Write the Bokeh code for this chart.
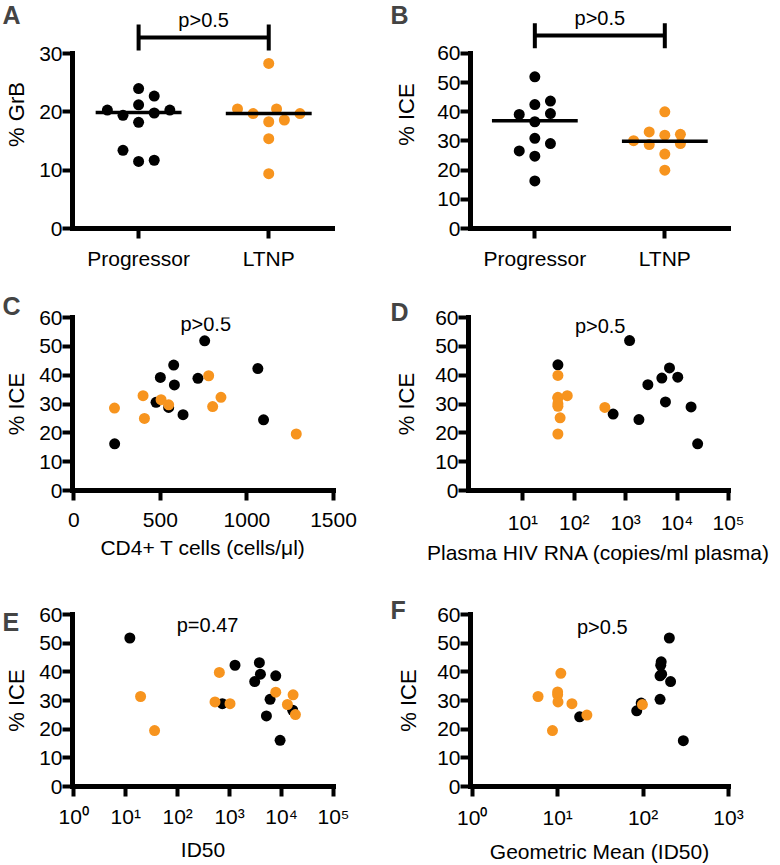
from bokeh.plotting import figure
from bokeh.models import Range1d, FixedTicker, Label
from bokeh.layouts import column, row
from bokeh.embed import file_html
from bokeh.resources import INLINE
from bokeh.core.properties import value

FONT = "Liberation Sans"
ORANGE = "#F7941E"
BLACK = "#000000"

# ---------------- data ----------------
groups = ["Progressor", "LTNP"]

# Panel A: % GrB
grb_prog = [24.0, 22.7, 20.3, 19.4, 21.2, 19.8, 20.3, 18.2, 13.4, 11.5, 11.7]
grb_prog_jit = [0, 0.12, -0.24, -0.12, 0, 0.12, 0.24, 0, -0.12, 0, 0.12]
grb_ltnp = [28.3, 20.5, 19.7, 20.5, 19.7, 18.3, 18.6, 15.4, 9.4]
grb_ltnp_jit = [0, -0.24, -0.12, 0.06, 0.24, 0, 0.12, 0, 0]
grb_medians = [19.9, 19.7]

# Panel B: % ICE
ice_prog = [52.0, 42.5, 43.7, 39.1, 39.4, 36.6, 30.9, 26.6, 29.1, 24.8, 16.3]
ice_prog_jit = [0, 0, 0.12, -0.12, 0.12, 0, 0, -0.12, 0.12, 0, 0]
ice_ltnp = [40.0, 33.1, 30.1, 28.8, 32.0, 32.3, 29.1, 25.5, 20.0]
ice_ltnp_jit = [0, -0.12, -0.24, -0.12, 0, 0.12, 0.12, 0, 0]
ice_medians = [36.9, 29.9]

# Panel C: CD4+ T cells vs % ICE
cd4_prog = [236, 475, 500, 548, 577, 581, 631, 717, 756, 1063, 1096]
ice_c_prog = [16.2, 30.6, 39.2, 28.8, 43.5, 36.6, 26.3, 38.9, 51.9, 42.3, 24.5]
cd4_ltnp = [235, 400, 408, 504, 548, 779, 802, 850, 1285]
ice_c_ltnp = [28.6, 32.9, 25.0, 31.5, 29.7, 39.8, 29.1, 32.3, 19.6]

# Panel D: plasma HIV RNA vs % ICE
rna_prog = [48, 570, 1190, 1810, 2700, 5050, 5940, 7110, 10300, 18700, 25100]
ice_d_prog = [43.6, 26.5, 52.0, 24.6, 36.7, 39.0, 30.7, 42.5, 39.3, 29.0, 16.2]
rna_ltnp = [48, 48, 48, 48, 48, 53, 48, 73, 393]
ice_d_ltnp = [39.9, 32.3, 32.0, 30.1, 29.2, 25.2, 19.6, 32.9, 28.8]

# Panel E: ID50 vs % ICE
id50_prog = [12, 724, 1270, 3040, 3740, 3920, 7730, 6010, 5110, 16400, 9370]
ice_e_prog = [51.8, 28.9, 42.3, 36.6, 43.2, 39.2, 38.6, 30.4, 24.6, 26.6, 16.1]
id50_ltnp = [19.3, 35.9, 634, 523, 1018, 7730, 12970, 16670, 18500]
ice_e_ltnp = [31.4, 19.5, 39.8, 29.5, 28.9, 32.9, 28.6, 32.0, 25.1]

# Panel F: geometric mean ID50 vs % ICE
gm_prog = [18.1, 84.3, 158, 161, 165, 158, 203, 210, 296, 163, 95]
ice_f_prog = [24.3, 26.4, 38.6, 42.3, 39.2, 30.4, 51.8, 36.6, 16.0, 43.5, 29.1]
gm_ltnp = [5.9, 8.7, 10.0, 10.1, 10.9, 14.7, 22.0, 98.2, 10.0]
ice_f_ltnp = [31.4, 19.5, 32.0, 29.5, 39.5, 28.9, 24.9, 28.6, 33.0]

ice_ticks = [0, 10, 20, 30, 40, 50, 60]
grb_ticks = [0, 10, 20, 30]
sup = {0: "10\u2070", 1: "10\u00b9", 2: "10\u00b2", 3: "10\u00b3", 4: "10\u2074", 5: "10\u2075"}


def make_fig(width, height, xr, yr, borders, x_type="linear"):
    p = figure(width=width, height=height, x_range=xr, y_range=yr, x_axis_type=x_type,
               output_backend="svg", toolbar_location=None,
               min_border_left=borders[0], min_border_right=borders[1],
               min_border_top=borders[2], min_border_bottom=borders[3])
    p.outline_line_color = None
    p.xgrid.visible = False
    p.ygrid.visible = False
    for ax in [p.xaxis[0], p.yaxis[0]]:
        ax.axis_line_width = 5
        ax.axis_line_cap = "square"
        ax.major_tick_line_width = 4
        ax.major_tick_out = 10
        ax.major_tick_in = 0
        ax.minor_tick_line_color = None
        ax.major_label_text_font = FONT
        ax.major_label_text_font_size = "21px"
        ax.major_label_text_color = BLACK
        ax.axis_label_text_font = FONT
        ax.axis_label_text_font_size = "21px"
        ax.axis_label_text_font_style = "normal"
        ax.axis_label_text_color = BLACK
    p.yaxis[0].axis_label_text_font_size = "22px"
    p.yaxis[0].major_label_standoff = 0
    return p


def letter(p, text, x, y):
    # placed in the (empty) right side panel so it is not clipped to the frame;
    # its position is given in data units, i.e. relative to the plot scales
    p.add_layout(Label(x=x, y=y, text=text,
                       text_font=FONT, text_font_size="25px", text_font_style="bold",
                       text_baseline="top", text_align="left"), "right")


def ptext(p, x, y, text):
    p.text(x=[x], y=[y], text=[text], text_align="center", text_baseline="middle",
           text_font=value(FONT), text_font_size="20px", text_color=BLACK)


def dot_panel(width, borders, yr_end, ymax, ticks, ylabel, prog, pj, ltnp, lj, medians,
              bracket, ptxt_y, xr, label_standoff):
    p = make_fig(width, 288, Range1d(*xr), Range1d(0, yr_end), borders)
    p.yaxis.ticker = FixedTicker(ticks=ticks)
    p.yaxis.bounds = (0, ymax)
    p.yaxis.axis_label = ylabel
    p.yaxis.axis_label_standoff = label_standoff
    p.xaxis.ticker = FixedTicker(ticks=[1, 2])
    p.xaxis.major_label_overrides = {1: groups[0], 2: groups[1]}
    p.xaxis.major_label_standoff = 8
    p.scatter([1 + j for j in pj], prog, size=11, fill_color=BLACK, line_color=None)
    p.scatter([2 + j for j in lj], ltnp, size=11, fill_color=ORANGE, line_color=None)
    p.segment(x0=[1 - 0.33, 2 - 0.33], x1=[1 + 0.33, 2 + 0.33], y0=medians, y1=medians,
              line_width=3.5, line_color=BLACK)
    by, b0, b1 = bracket
    p.segment(x0=[1, 1, 2], x1=[2, 1, 2], y0=[by, b0, b0], y1=[by, b1, b1],
              line_width=4, line_color=BLACK)
    ptext(p, 1.5, ptxt_y, "p>0.5")
    return p


# Panel A
pA = dot_panel(390, (72, 58, 0, 60), 39.09, 30, grb_ticks, "% GrB", grb_prog, grb_prog_jit,
               grb_ltnp, grb_ltnp_jit, grb_medians, (32.74, 30.51, 34.97), 35.83,
               (0.492, 2.49), 7)
letter(pA, "A", -0.046, 39.09)

# Panel B
pB = dot_panel(390, (80, 52, 0, 60), 78.17, 60, ice_ticks, "% ICE", ice_prog, ice_prog_jit,
               ice_ltnp, ice_ltnp_jit, ice_medians, (66.17, 61.82, 70.39), 72.0,
               (0.505, 2.49), 15)
letter(pB, "B", -0.11, 78.17)


def scatter_panel(width, height, xr, borders, x_type, xticks, xlabel, xp, yp, xl, yl,
                  ptxt, label_standoff, tick_standoff, title_standoff, overrides=None):
    p = make_fig(width, height, xr, Range1d(0, 60), borders, x_type)
    p.yaxis.ticker = FixedTicker(ticks=ice_ticks)
    p.yaxis.axis_label = "% ICE"
    p.yaxis.axis_label_standoff = label_standoff
    p.xaxis.ticker = FixedTicker(ticks=xticks)
    if overrides:
        p.xaxis.major_label_overrides = overrides
    p.xaxis.axis_label = xlabel
    p.xaxis.major_label_standoff = tick_standoff
    p.xaxis.axis_label_standoff = title_standoff
    p.scatter(xp, yp, size=11, fill_color=BLACK, line_color=None)
    p.scatter(xl, yl, size=11, fill_color=ORANGE, line_color=None)
    ptext(p, ptxt[0], ptxt[1], ptxt[2])
    return p


pC = scatter_panel(390, 282, Range1d(-7.5, 1500), (72, 57, 29, 80), "linear",
                   [0, 500, 1000, 1500], "CD4+ T cells (cells/\u03bcl)",
                   cd4_prog, ice_c_prog, cd4_ltnp, ice_c_ltnp, (762, 57.6, "p>0.5"), 7, 12, 6)
letter(pC, "C", -411.8, 68.7)

dticks = [10, 100, 1000, 10000, 100000]
pD = scatter_panel(390, 282, Range1d(10 ** -0.058, 1e5), (78, 52, 29, 80), "log",
                   dticks, "Plasma HIV RNA (copies/ml plasma)",
                   rna_prog, ice_d_prog, rna_ltnp, ice_d_ltnp, (319, 56.9, "p>0.5"), 13, 10, 4,
                   {t: sup[i + 1] for i, t in enumerate(dticks)})
letter(pD, "D", 10 ** -1.575, 66.6)

eticks = [1, 10, 100, 1000, 10000, 100000]
pE = scatter_panel(390, 295, Range1d(10 ** -0.025, 1e5), (72, 57, 44, 76), "log",
                   eticks, "ID50",
                   id50_prog, ice_e_prog, id50_ltnp, ice_e_ltnp, (377, 56.2, "p=0.47"), 7, 8, 7,
                   {t: sup[i] for i, t in enumerate(eticks)})
letter(pE, "E", 10 ** -1.373, 62.1)

fticks = [1, 10, 100, 1000]
pF = scatter_panel(390, 295, Range1d(10 ** -0.02, 1e3), (80, 52, 44, 76), "log",
                   fticks, "Geometric Mean (ID50)",
                   gm_prog, ice_f_prog, gm_ltnp, ice_f_ltnp, (33.3, 55.6, "p>0.5"), 13, 9, 8,
                   {t: sup[i] for i, t in enumerate(fticks)})
letter(pF, "F", 10 ** -0.956, 66.5)

layout = column(row(pA, pB), row(pC, pD), row(pE, pF))
open("out.html", "w").write(file_html(layout, INLINE))
